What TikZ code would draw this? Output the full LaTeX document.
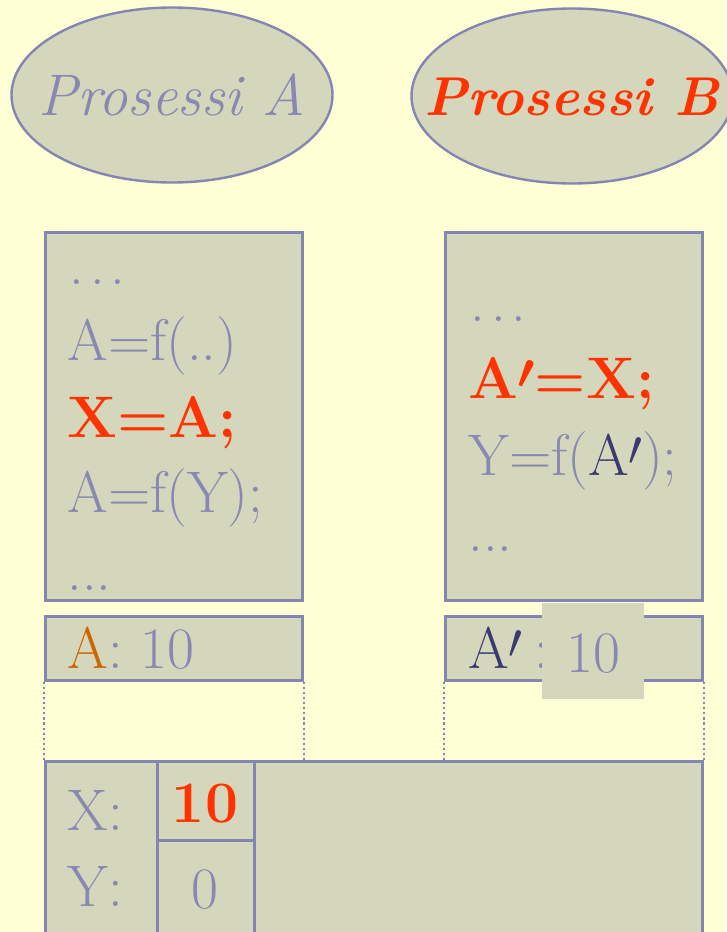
\RequirePackage{fix-cm}
\documentclass[tikz,border=0pt]{standalone}
\usepackage{tikz}
\usetikzlibrary{shapes.geometric,positioning,calc}
\usepackage{xcolor}
\definecolor{bgyellow}{RGB}{255,255,213}
\definecolor{boxfill}{RGB}{213,215,188}
\definecolor{lineblue}{RGB}{133,133,180}
\definecolor{textblue}{RGB}{136,136,178}
\definecolor{hotred}{RGB}{255,51,0}
\definecolor{orangeA}{RGB}{204,102,0}
\definecolor{darkblue}{RGB}{58,58,112}
\newcommand{\apr}{A\kern-0.5pt\raisebox{0.17em}{\scalebox{0.85}{$\prime$}}}

\begin{document}
\begin{tikzpicture}[x=0.75pt, y=-0.75pt, line width=2.2pt]
\tikzset{
  proc/.style={ellipse, draw=lineblue, line width=1.8pt, fill=boxfill, minimum width=240.75pt, minimum height=131.25pt, inner sep=0pt},
  box/.style={draw=lineblue, fill=boxfill, anchor=north west, inner sep=0pt},
  txt/.style={anchor=base west, inner sep=0pt, text=textblue, font=\fontsize{44}{48}\selectfont},
  hot/.style={txt, text=hotred, font=\fontsize{44}{48}\selectfont\bfseries\boldmath},
  link/.style={draw=lineblue, line width=1.6pt, dash pattern=on 1.6pt off 2.2pt}
}
\fill[bgyellow] (0,0) rectangle (726,932);
\useasboundingbox (0,0) rectangle (726,932);

% the two processes
\node[proc] (procA) at (172,95) {};
\node[proc] (procB) at (572,96) {};
\node[inner sep=0pt, text=textblue, font=\fontsize{44}{48}\selectfont\itshape] (nameA) at (procA) {Prosessi A};
\node[inner sep=0pt, text=hotred, font=\fontsize{41}{48}\selectfont\bfseries\itshape] (nameB) at (572,97) {Prosessi B};

% code of A and B
\node[box, minimum width=192.75pt, minimum height=276pt] (codeA) at (44,231) {};
\node[box, minimum width=192.75pt, minimum height=276pt] (codeB) at (444,231) {};
\node[txt] (a1) at (68,284) {.\kern4.5pt.\kern4.5pt.};
\node[txt] (a2) at (66,360) {A=f(..)};
\node[hot] (a3) at (66,437) {X=A;};
\node[txt] (a4) at (66,512) {A=f(Y);};
\node[txt] (a5) at (66,590) {...};
\node[txt] (b1) at (469,321) {.\kern4.5pt.\kern4.5pt.};
\node[hot] (b2) at (467,398) {\apr=X;};
\node[txt] (b3) at (467,475) {Y=f(\textcolor{darkblue}{\apr});};
\node[txt] (b4) at (467,551) {...};

% private memory
\node[box, minimum width=192.75pt, minimum height=48pt] (memA) at (44,615) {};
\node[box, minimum width=192.75pt, minimum height=48pt] (memB) at (444,615) {};
\node[txt] (valA) at (66,668) {\textcolor{orangeA}{A}: 10};
\node[txt] (labB) at (467,668) {\textcolor{darkblue}{\apr}\kern9pt:};
\node[box, draw=none, minimum width=76.5pt, minimum height=72pt] (patch) at (541,602) {};
\node[txt, anchor=base] (valB) at (593,672) {10};

% shared memory
\draw[link] (memA.south west) -- (memA.south west |- 0,760);
\draw[link] (memA.south east) -- (memA.south east |- 0,760);
\draw[link] (memB.south west) -- (memB.south west |- 0,760);
\draw[link] (memB.south east) -- (memB.south east |- 0,760);
\node[box, minimum width=492.75pt, minimum height=150pt] (shared) at (44,760) {};
\node[box, minimum width=72.75pt, minimum height=59.25pt] (cellX) at (156,760) {};
\node[box, minimum width=72.75pt, minimum height=90.75pt] (cellY) at (156,839) {};
\node[txt] (labX) at (66,830) {X:};
\node[txt] (labY) at (66,906) {Y:};
\node[hot, anchor=base] (valX) at (205,822) {10};
\node[txt, anchor=base] (valY) at (205,908) {0};
\end{tikzpicture}
\end{document}
